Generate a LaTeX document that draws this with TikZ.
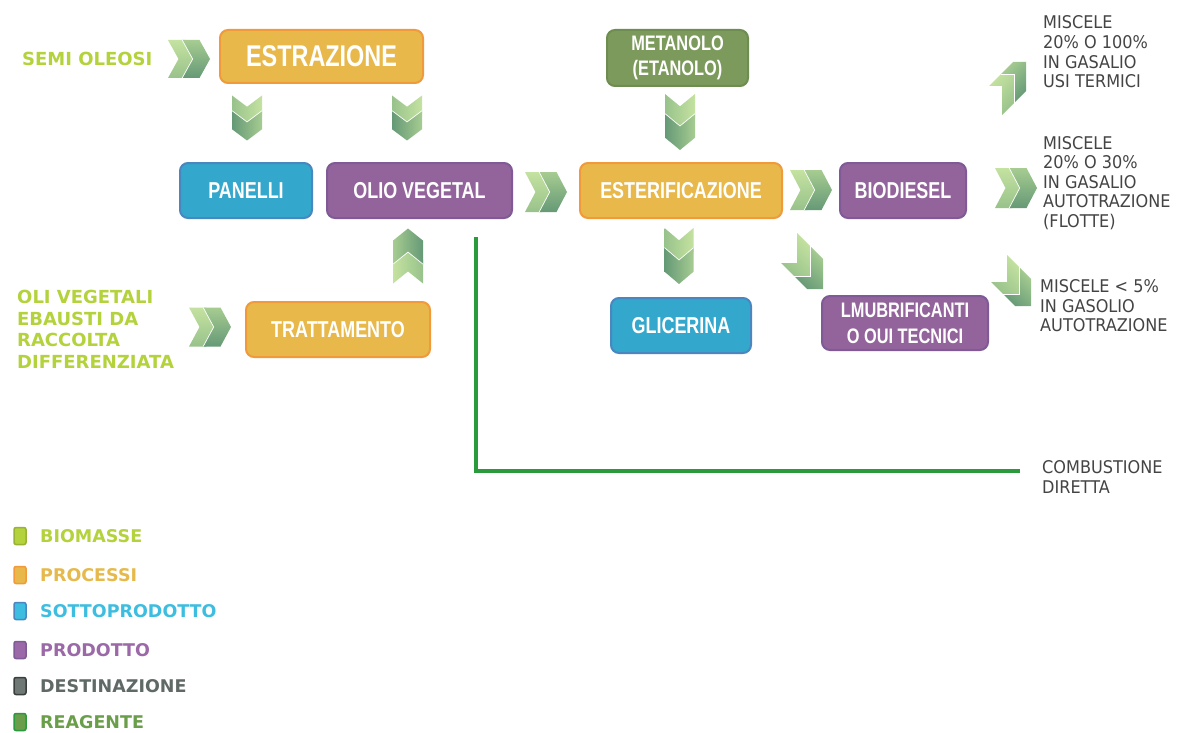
\documentclass[tikz,border=0pt]{standalone}
\usepackage{fontspec}
\setmainfont{Liberation Sans}
\newfontfamily\boxfont{Liberation Sans}[FakeStretch=0.78]
\newfontfamily\tagfont{DejaVu Sans}
\newfontfamily\notefont{DejaVu Sans}[FakeStretch=0.92]

% palette
\definecolor{procfill}{HTML}{E8B84B}
\definecolor{procedge}{HTML}{F09A3C}
\definecolor{subfill}{HTML}{33A7CC}
\definecolor{subedge}{HTML}{4A86C0}
\definecolor{prodfill}{HTML}{93649B}
\definecolor{prodedge}{HTML}{7F5A96}
\definecolor{reagfill}{HTML}{7C9A5C}
\definecolor{reagedge}{HTML}{6D8E50}
\definecolor{bioText}{HTML}{B3D23C}
\definecolor{procText}{HTML}{E6B94C}
\definecolor{subText}{HTML}{3DBDE0}
\definecolor{prodText}{HTML}{9B68A8}
\definecolor{destText}{HTML}{5F6966}
\definecolor{reagText}{HTML}{6A9E4A}
\definecolor{noteText}{HTML}{444444}
\definecolor{burn}{HTML}{2A9A3C}
\definecolor{chevA1}{HTML}{C4E2A0}
\definecolor{chevA2}{HTML}{98C28B}
\definecolor{chevB1}{HTML}{A6CC91}
\definecolor{chevB2}{HTML}{659976}

\tikzset{
  stage/.style={draw, rounded corners=8pt, line width=2pt, minimum height=55pt,
    text=white, font=\boxfont\bfseries\fontsize{23}{26}\selectfont,
    align=center, inner sep=0pt},
  proc/.style={stage, fill=procfill, draw=procedge},
  sub/.style={stage, fill=subfill, draw=subedge},
  prod/.style={stage, fill=prodfill, draw=prodedge},
  reag/.style={stage, fill=reagfill, draw=reagedge},
  source/.style={anchor=west, inner sep=0pt, align=left, text=bioText,
    font=\tagfont\bfseries\fontsize{18}{21.5}\selectfont},
  note/.style={anchor=west, inner sep=0pt, align=left, text=noteText,
    font=\notefont\fontsize{17.5}{19.6}\selectfont},
  keytext/.style={anchor=west, inner sep=0pt,
    font=\tagfont\bfseries\fontsize{17.5}{20}\selectfont},
  keybox/.style={minimum width=12pt, minimum height=17pt, inner sep=0pt,
    rounded corners=2pt, line width=1.5pt},
  burnline/.style={draw=burn, line width=3.5pt},
  % double chevron of unit size pointing along +x;
  % #1 = page direction (for the shading), #2 = depth of the notch
  pics/chev/.style 2 args={code={
    \pgfmathsetmacro{\cd}{#2}
    \pgfmathsetmacro{\ct}{0.55*(1-#2)}
    \pgfmathsetmacro{\cs}{0.45*(1-#2)}
    \shade[left color=chevA1, right color=chevA2, shading angle=#1]
      (-0.5,-0.5) -- (-0.5+\ct,-0.5) -- (-0.5+\ct+\cd,0) -- (-0.5+\ct,0.5)
      -- (-0.5,0.5) -- (-0.5+\cd,0) -- cycle;
    \shade[left color=chevB1, right color=chevB2, shading angle=#1]
      (-0.5+\cs,-0.5) -- (0.5-\cd,-0.5) -- (0.5,0) -- (0.5-\cd,0.5)
      -- (-0.5+\cs,0.5) -- (-0.5+\cs+\cd,0) -- cycle;
    \draw[white, line width=0.7pt]
      (-0.5+\cs,-0.5) -- (-0.5+\cs+\cd,0) -- (-0.5+\cs,0.5);
  }},
  % double right-angle chevron, outer corner at the origin, opening down-left;
  % #1 = top arm length, #2 = side arm length, #3 = thickness, #4 = shading direction
  pics/bend/.style n args={4}{code={
    \shade[left color=chevA1, right color=chevA2, shading angle=#4, shift={(-#3,#3)}]
      (0,0) -- (0,#2) -- (-#3,#2+#3) -- (-#3,#3) -- (-#1,#3) -- (-#1+#3,0) -- cycle;
    \shade[left color=chevB1, right color=chevB2, shading angle=#4]
      (0,0) -- (0,#2) -- (-#3,#2+#3) -- (-#3,#3) -- (-#1,#3) -- (-#1+#3,0) -- cycle;
    \draw[white, line width=0.7pt] (-#1,#3) -- (-#3,#3) -- (-#3,#2+#3);
  }}
}

\begin{document}
\begin{tikzpicture}[x=1pt, y=-1pt]
\useasboundingbox[fill=white] (0,0) rectangle (1180,733);

% process boxes
\node[proc, minimum width=203pt, minimum height=53pt,
      font=\boxfont\bfseries\fontsize{30}{32}\selectfont] (estr) at (321.5,56.5) {ESTRAZIONE};
\node[reag, minimum width=141pt, minimum height=56pt,
      font=\boxfont\bfseries\fontsize{21}{25}\selectfont] (meth) at (677.5,58) {METANOLO\\(ETANOLO)};
\node[sub, minimum width=132pt] (pan) at (246,190.5) {PANELLI};
\node[prod, minimum width=185pt] (olio) at (419.5,190.5) {OLIO VEGETAL};
\node[proc, minimum width=202pt] (ester) at (681,190.5) {ESTERIFICAZIONE};
\node[prod, minimum width=126pt] (bio) at (903,190.5) {BIODIESEL};
\node[proc, minimum width=184pt] (tratt) at (338,329.5) {TRATTAMENTO};
\node[sub, minimum width=140pt] (glic) at (681,325.5) {GLICERINA};
\node[prod, minimum width=166pt, minimum height=54pt,
      font=\boxfont\bfseries\fontsize{21}{26}\selectfont] (lub) at (905,323) {LMUBRIFICANTI\\O OUI TECNICI};

% inputs
\node[source] (semi) at (22,59) {SEMI OLEOSI};
\node[source] (oli) at (17,329.5) {OLI VEGETALI\\EBAUSTI DA\\RACCOLTA\\DIFFERENZIATA};

% destinations
\node[note] (usi) at (1043,52) {MISCELE\\20\% O 100\%\\IN GASALIO\\USI TERMICI};
\node[note] (flotte) at (1043,183) {MISCELE\\20\% O 30\%\\IN GASALIO\\AUTOTRAZIONE\\(FLOTTE)};
\node[note] (cinque) at (1040,306) {MISCELE < 5\%\\IN GASOLIO\\AUTOTRAZIONE};
\node[note] (comb) at (1042,477) {COMBUSTIONE\\DIRETTA};

% flow chevrons
\pic[xscale=42, yscale=38] (c1) at (189,59) {chev={0}{0.25}};
\pic[rotate=-90, xscale=45, yscale=30] (c2) at (247,118) {chev={-90}{0.25}};
\pic[rotate=-90, xscale=45, yscale=30] (c3) at (407,118) {chev={-90}{0.25}};
\pic[xscale=42, yscale=40] (c4) at (546,192) {chev={0}{0.25}};
\pic[rotate=-90, xscale=56, yscale=30] (c5) at (680,122) {chev={-90}{0.22}};
\pic[xscale=42, yscale=40] (c6) at (811,190) {chev={0}{0.25}};
\pic[xscale=42, yscale=40] (c7) at (1016,188) {chev={0}{0.25}};
\pic[rotate=-90, xscale=56, yscale=29] (c8) at (679,256) {chev={-90}{0.22}};
\pic[rotate=90, xscale=55, yscale=30] (c9) at (408,256) {chev={90}{0.22}};
\pic[xscale=42, yscale=39] (c10) at (210,327) {chev={0}{0.25}};
\pic[yscale=-1] (c11) at (823,289) {bend={29}{30}{13}{-45}};
\pic[yscale=-1] (c12) at (1031,306) {bend={28}{27}{12}{-45}};
\pic (c13) at (1026,62) {bend={25}{29}{12}{45}};

% direct combustion path
\coordinate (oilout) at (476,237);
\coordinate (combend) at (1020,471);
\draw[burnline] (oilout) |- (combend);

% legend
\node[keybox, fill=bioText, draw=bioText!85!black] (k1) at (20,536) {};
\node[keytext, text=bioText] (t1) at (40,536) {BIOMASSE};
\node[keybox, fill=procfill, draw=procedge] (k2) at (20,575) {};
\node[keytext, text=procText] (t2) at (40,575) {PROCESSI};
\node[keybox, fill=subText, draw=subedge] (k3) at (20,611) {};
\node[keytext, text=subText] (t3) at (40,611) {SOTTOPRODOTTO};
\node[keybox, fill=prodText, draw=prodedge] (k4) at (20,650) {};
\node[keytext, text=prodText] (t4) at (40,650) {PRODOTTO};
\node[keybox, fill=destText!90, draw=destText!60!black] (k5) at (20,686) {};
\node[keytext, text=destText] (t5) at (40,686) {DESTINAZIONE};
\node[keybox, fill=reagText, draw=burn] (k6) at (20,722) {};
\node[keytext, text=reagText] (t6) at (40,722) {REAGENTE};
\end{tikzpicture}
\end{document}
